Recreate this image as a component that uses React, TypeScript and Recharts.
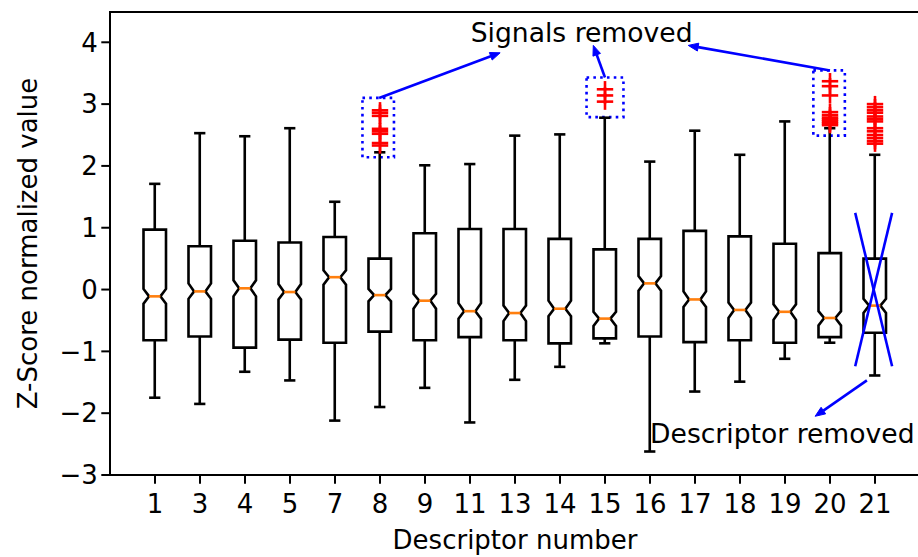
import React from 'react';
import {
  ComposedChart,
  Bar,
  Scatter,
  XAxis,
  YAxis,
  ReferenceArea,
  ReferenceLine,
  ReferenceDot,
} from 'recharts';

// Descriptor numbers kept after preprocessing (x categories)
const descriptors = ['1', '3', '4', '5', '7', '8', '9', '11', '13', '14', '15', '16', '17', '18', '19', '20', '21'];

// Box statistics, one entry per descriptor
const whiskerLow = [-1.75, -1.85, -1.33, -1.47, -2.12, -1.9, -1.59, -2.15, -1.46, -1.25, -0.87, -2.62, -1.65, -1.49, -1.12, -0.86, -1.39];
const q1 = [-0.82, -0.76, -0.94, -0.81, -0.86, -0.68, -0.82, -0.77, -0.82, -0.87, -0.79, -0.76, -0.85, -0.82, -0.86, -0.77, -0.7];
const notchLow = [-0.23, -0.15, -0.11, -0.16, 0.08, -0.19, -0.31, -0.47, -0.51, -0.43, -0.59, -0.02, -0.28, -0.46, -0.49, -0.58, -0.38];
const median = [-0.11, -0.03, 0.02, -0.04, 0.2, -0.09, -0.18, -0.35, -0.38, -0.31, -0.47, 0.1, -0.16, -0.33, -0.36, -0.46, -0.26];
const notchHigh = [0.01, 0.1, 0.15, 0.09, 0.31, 0.01, -0.07, -0.22, -0.26, -0.18, -0.36, 0.22, -0.03, -0.21, -0.24, -0.35, -0.15];
const q3 = [0.97, 0.7, 0.79, 0.76, 0.85, 0.5, 0.91, 0.98, 0.98, 0.82, 0.65, 0.82, 0.95, 0.86, 0.74, 0.59, 0.5];
const whiskerHigh = [1.71, 2.53, 2.48, 2.61, 1.42, 2.22, 2.01, 2.03, 2.49, 2.51, 2.78, 2.07, 2.57, 2.18, 2.72, 2.61, 2.18];

// Outliers (red +) per descriptor
const fliers: number[][] = [
  [], [], [], [], [],
  [2.33, 2.37, 2.52, 2.56, 2.6, 2.81, 2.86, 2.9],
  [], [], [], [],
  [3.04, 3.14, 3.24],
  [], [], [], [],
  [2.66, 2.69, 2.72, 2.75, 2.78, 2.82, 2.87, 3.14, 3.29, 3.37],
  [2.36, 2.4, 2.45, 2.5, 2.56, 2.61, 2.72, 2.76, 2.8, 2.86, 2.9, 2.95, 3.0],
];

const yTicks = [-3, -2, -1, 0, 1, 2, 3, 4];
const xTicks = descriptors.map((_, i) => i + 1);

const FONT = '"DejaVu Sans", sans-serif';
const BLUE = '#0000ff';

const boxData = descriptors.map((d, i) => ({
  pos: i + 1,
  range: [whiskerLow[i], whiskerHigh[i]],
  lo: whiskerLow[i],
  hi: whiskerHigh[i],
  q1: q1[i],
  q3: q3[i],
  nlo: notchLow[i],
  nhi: notchHigh[i],
  med: median[i],
}));

const flierData = fliers.flatMap((vals, i) => vals.map((v) => ({ pos: i + 1, value: v })));

// notched box drawn from the range bar's pixel extent
const NotchedBox = (props: any) => {
  const { x, y, width, height, payload } = props;
  if (payload == null || width == null) return null;
  const top = height >= 0 ? y : y + height;
  const span = Math.abs(height);
  const py = (v: number) => top + ((payload.hi - v) / (payload.hi - payload.lo)) * span;
  const cx = x + width / 2;
  const bl = cx - width / 2;
  const br = cx + width / 2;
  const nl = cx - width / 4;
  const nr = cx + width / 4;
  const pts = [
    [bl, payload.q1], [br, payload.q1], [br, payload.nlo], [nr, payload.med], [br, payload.nhi],
    [br, payload.q3], [bl, payload.q3], [bl, payload.nhi], [nl, payload.med], [bl, payload.nlo],
  ]
    .map(([px, v]) => `${px},${py(v)}`)
    .join(' ');
  const stroke = '#000';
  const sw = 2.6;
  return (
    <g>
      <line x1={cx} x2={cx} y1={py(payload.q1)} y2={py(payload.lo)} stroke={stroke} strokeWidth={sw} />
      <line x1={cx} x2={cx} y1={py(payload.q3)} y2={py(payload.hi)} stroke={stroke} strokeWidth={sw} />
      <line x1={nl} x2={nr} y1={py(payload.lo)} y2={py(payload.lo)} stroke={stroke} strokeWidth={sw} />
      <line x1={nl} x2={nr} y1={py(payload.hi)} y2={py(payload.hi)} stroke={stroke} strokeWidth={sw} />
      <polygon points={pts} fill="none" stroke={stroke} strokeWidth={sw} strokeLinejoin="miter" />
      <line x1={nl} x2={nr} y1={py(payload.med)} y2={py(payload.med)} stroke="#ff7f0e" strokeWidth={2.6} />
    </g>
  );
};

const PlusMarker = (props: any) => {
  const { cx, cy } = props;
  if (cx == null || cy == null) return null;
  const h = 8.2;
  return (
    <g stroke="#ff0000" strokeWidth={2.6}>
      <line x1={cx - h} x2={cx + h} y1={cy} y2={cy} />
      <line x1={cx} x2={cx} y1={cy - h} y2={cy + h} />
    </g>
  );
};

const Arrow = (props: any) => {
  const { x1, y1, x2, y2 } = props;
  if ([x1, y1, x2, y2].some((v) => v == null || Number.isNaN(v))) return null;
  const ang = Math.atan2(y2 - y1, x2 - x1);
  const L = 10;
  const W = 4;
  const bx = x2 - L * Math.cos(ang);
  const by = y2 - L * Math.sin(ang);
  const px = -Math.sin(ang) * W;
  const py = Math.cos(ang) * W;
  return (
    <g>
      <line x1={x1} y1={y1} x2={bx} y2={by} stroke={BLUE} strokeWidth={2.6} />
      <polygon points={`${x2},${y2} ${bx + px},${by + py} ${bx - px},${by - py}`} fill={BLUE} stroke={BLUE} strokeWidth={1} />
    </g>
  );
};

const annotText = (text: string) => (props: any) => {
  const vb = props.viewBox || {};
  const cx = vb.x + (vb.width || 0) / 2;
  const cy = vb.y + (vb.height || 0) / 2;
  return (
    <text x={cx} y={cy} dy="0.36em" textAnchor="middle" fontFamily={FONT} fontSize={26.6} fill="#000">
      {text}
    </text>
  );
};

const fmtY = (v: number) => (v < 0 ? `\u2212${Math.abs(v)}` : `${v}`);

export default function App() {
  return (
    <div style={{ position: 'absolute', left: 0, top: 0, width: 918, height: 557, overflow: 'hidden', background: '#fff' }}>
      <ComposedChart
        width={930}
        height={557}
        data={boxData}
        margin={{ top: 12, right: 10, bottom: 0, left: 0 }}
      >
        <XAxis
          dataKey="pos"
          type="number"
          domain={[0, 18]}
          ticks={xTicks}
          interval={0}
          allowDataOverflow
          tickFormatter={(v: number) => descriptors[v - 1] ?? ''}
          height={82}
          axisLine={false}
          tickSize={8.7}
          tickMargin={11}
          tickLine={{ stroke: '#000', strokeWidth: 2 }}
          tick={{ fill: '#000', fontSize: 26, fontFamily: FONT }}
          label={(p: any) => {
            const vb = p.viewBox || {};
            return (
              <text x={vb.x + vb.width / 2} y={549} textAnchor="middle" fontFamily={FONT} fontSize={26} fill="#000">
                Descriptor number
              </text>
            );
          }}
        />
        <YAxis
          type="number"
          domain={[-3, 4.49]}
          ticks={yTicks}
          allowDataOverflow
          width={110}
          axisLine={false}
          tickSize={8.7}
          tickMargin={3.5}
          tickLine={{ stroke: '#000', strokeWidth: 2 }}
          tickFormatter={fmtY}
          tick={{ fill: '#000', fontSize: 26, fontFamily: FONT }}
          label={(p: any) => {
            const vb = p.viewBox || {};
            const cy = vb.y + vb.height / 2;
            return (
              <text transform={`translate(37, ${cy}) rotate(-90)`} textAnchor="middle" fontFamily={FONT} fontSize={26} fill="#000">
                Z-Score normalized value
              </text>
            );
          }}
        />
        <ReferenceArea x1={0} x2={18} y1={-3} y2={4.49} fill="none" stroke="#000" strokeWidth={2} ifOverflow="visible" />
        <Bar dataKey="range" barSize={22.5} shape={<NotchedBox />} isAnimationActive={false} />
        <Scatter data={flierData} dataKey="value" shape={<PlusMarker />} isAnimationActive={false} />

        {/* signals removed */}
        <ReferenceArea x1={5.61} x2={6.31} y1={2.14} y2={3.1} fill="none" stroke={BLUE} strokeWidth={2.6} strokeDasharray="2.6 4.2" ifOverflow="visible" />
        <ReferenceArea x1={10.59} x2={11.41} y1={2.79} y2={3.43} fill="none" stroke={BLUE} strokeWidth={2.6} strokeDasharray="2.6 4.2" ifOverflow="visible" />
        <ReferenceArea x1={15.63} x2={16.33} y1={2.49} y2={3.545} fill="none" stroke={BLUE} strokeWidth={2.6} strokeDasharray="2.6 4.2" ifOverflow="visible" />
        <ReferenceLine segment={[{ x: 5.98, y: 3.1 }, { x: 8.67, y: 3.83 }]} shape={<Arrow />} ifOverflow="visible" />
        <ReferenceLine segment={[{ x: 11.0, y: 3.43 }, { x: 10.74, y: 3.95 }]} shape={<Arrow />} ifOverflow="visible" />
        <ReferenceLine segment={[{ x: 16.0, y: 3.545 }, { x: 12.85, y: 3.95 }]} shape={<Arrow />} ifOverflow="visible" />
        <ReferenceDot x={10.48} y={4.155} r={1} fill="none" stroke="none" ifOverflow="visible" label={annotText('Signals removed')} />

        {/* descriptor removed */}
        <ReferenceLine segment={[{ x: 16.56, y: 1.24 }, { x: 17.38, y: -1.24 }]} stroke={BLUE} strokeWidth={2.6} ifOverflow="visible" />
        <ReferenceLine segment={[{ x: 17.38, y: 1.24 }, { x: 16.56, y: -1.24 }]} stroke={BLUE} strokeWidth={2.6} ifOverflow="visible" />
        <ReferenceLine segment={[{ x: 16.82, y: -1.47 }, { x: 15.67, y: -2.05 }]} shape={<Arrow />} ifOverflow="visible" />
        <ReferenceDot x={14.94} y={-2.323} r={1} fill="none" stroke="none" ifOverflow="visible" label={annotText('Descriptor removed')} />
      </ComposedChart>
    </div>
  );
}
